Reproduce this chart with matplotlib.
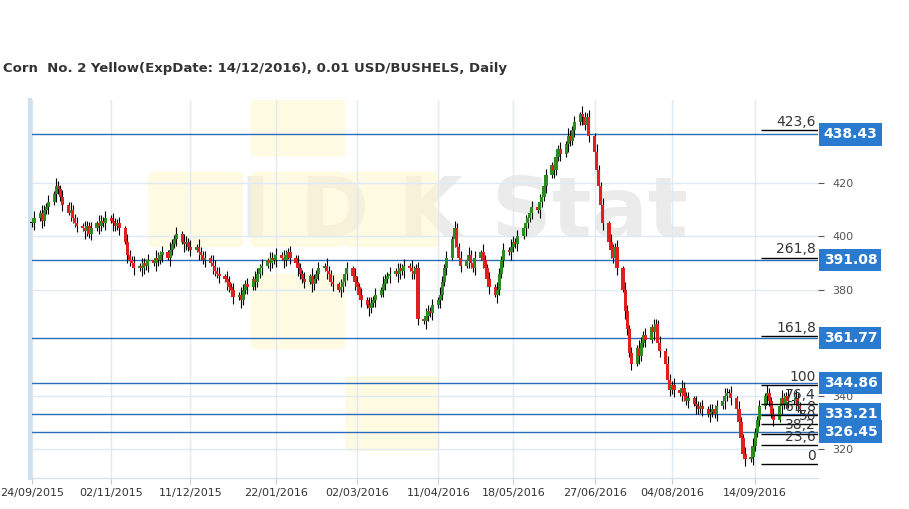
import matplotlib
matplotlib.use("Agg")
import matplotlib.pyplot as plt
import matplotlib.dates as mdates
from matplotlib.patches import FancyBboxPatch
import pandas as pd
import numpy as np

closes = [405,407,409,406,410,
 411,413,416,419,418,415,412,409,410,407,405,404,403,402,404,401,403,405,404,406,405,407,
 406,405,404,405,403,398,393,391,390,388,389,388,390,389,391,390,392,391,393,394,392,
 395,397,399,401,398,397,398,396,395,396,394,393,391,392,390,389,387,386,385,384,383,381,380,
 377,378,376,380,382,381,384,383,386,388,389,391,390,392,391,393,392,391,393,394,392,
 390,388,386,384,383,385,382,384,386,388,389,387,386,383,382,380,381,383,386,388,385,
 383,381,378,376,374,373,375,376,378,380,382,384,385,386,387,386,388,387,389,388,387,386,388,
 369,368,370,372,371,374,376,378,383,388,392,399,403,396,392,389,391,393,390,388,392,
 394,391,388,384,381,378,380,386,391,395,394,396,398,397,400,403,405,407,409,411,410,413,
 415,419,423,427,425,430,433,431,435,438,436,440,443,446,445,442,445,438,432,425,419,412,
 405,398,395,392,396,388,380,372,365,356,352,358,355,360,363,361,366,364,367,360,357,
 352,346,342,344,342,341,343,340,338,339,337,336,335,336,335,333,334,335,333,336,338,340,341,
 341,339,335,330,324,318,316,317,321,326,331,336,340,341,338,333,331,336,339,337,340,338,
 338,339,336,335]
wick = [1.5, 2.5, 1.0, 3.0, 2.0]

blue_levels = [438.43, 391.08, 361.77, 344.86, 333.21, 326.45]
fib_labels = ["423,6", "261,8", "161,8", "100", "76,4", "61,8", "50", "38,2", "23,6", "0"]
fib_ratios = [4.236, 2.618, 1.618, 1.0, 0.764, 0.618, 0.5, 0.382, 0.236, 0.0]
fib_low, fib_high = 314.3, 344.0
xtick_labels = ["24/09/2015","02/11/2015","11/12/2015","22/01/2016","02/03/2016",
                "11/04/2016","18/05/2016","27/06/2016","04/08/2016","14/09/2016"]

dates = pd.bdate_range("2015-09-24", periods=len(closes))
x = mdates.date2num(dates)
opens = [closes[0]] + closes[:-1]

fig = plt.figure(figsize=(9.09, 5.09), dpi=100)
ax = fig.add_axes([0.033, 0.061, 0.867, 0.743])
xmin = mdates.date2num(pd.Timestamp("2015-09-24")) - 1
xmax = xmin + 388
ax.set_xlim(xmin, xmax)
ax.set_ylim(309, 451.5)

ax.text(0.55, 0.7, "I D K Stat", transform=ax.transAxes, fontsize=60, fontweight="bold",
        color="#d8d8d8", alpha=0.5, ha="center", va="center", zorder=0)
for (bx, by) in [(0.29, 0.62), (0.16, 0.62), (0.41, 0.62), (0.29, 0.35), (0.41, 0.08), (0.29, 0.86)]:
    ax.add_patch(FancyBboxPatch((bx, by), 0.1, 0.18, boxstyle="round,pad=0.01",
                 transform=ax.transAxes, fc="#fff7d0", ec="none", alpha=0.6, zorder=0))

for lvl in blue_levels:
    ax.axhline(lvl, color="#2a6ebb", lw=1, zorder=2)

for i in range(len(closes)):
    o, c = opens[i], closes[i]
    w = wick[i % len(wick)]
    col = "#2e8b22" if c >= o else "#e02020"
    ax.vlines(x[i], min(o, c) - w, max(o, c) + w, color="black", lw=0.8, zorder=3)
    h = abs(c - o) if abs(c - o) > 0.3 else 0.3
    ax.bar(x[i], h, bottom=min(o, c), width=1.6, color=col if c != o else "black", zorder=4)

fx0 = mdates.date2num(pd.Timestamp("2016-09-17"))
for lab, r in zip(fib_labels, fib_ratios):
    lv = fib_low + r * (fib_high - fib_low)
    ax.hlines(lv, fx0, xmax, color="black", lw=1, zorder=5)
    ax.text(xmax - 1, lv + 0.5, lab, ha="right", va="bottom", fontsize=10, color="#333333", zorder=6)

ticks = [mdates.date2num(pd.Timestamp(pd.to_datetime(t, dayfirst=True))) for t in xtick_labels]
ax.set_xticks(ticks)
ax.set_xticklabels(xtick_labels, fontsize=8, color="#333333")
ax.set_yticks([320, 340, 380, 400, 420])
ax.yaxis.tick_right()
ax.tick_params(axis="y", labelsize=8, colors="#555555", length=4, pad=6)
ax.tick_params(axis="x", length=4, colors="#cccccc", labelcolor="#333333")
ax.grid(True, color="#dde9f3", lw=1, zorder=1)
ax.set_axisbelow(True)
for s in ["top", "right"]:
    ax.spines[s].set_visible(False)
ax.spines["left"].set_color("#d0e2f0")
ax.spines["left"].set_linewidth(3)
ax.spines["bottom"].set_color("#d0e2f0")

for lvl in blue_levels:
    ax.annotate(f"{lvl:.2f}", xy=(1.0, lvl), xycoords=("axes fraction", "data"),
                xytext=(4, 0), textcoords="offset points", ha="left", va="center",
                fontsize=10, fontweight="bold", color="white", annotation_clip=False,
                bbox=dict(boxstyle="square,pad=0.3", fc="#2a7bd0", ec="none"), zorder=10)

fig.text(0.003, 0.866, "Corn  No. 2 Yellow(ExpDate: 14/12/2016), 0.01 USD/BUSHELS, Daily",
         fontsize=9.5, fontweight="bold", color="#333333", va="center")
fig.savefig("out.png", dpi=100)
